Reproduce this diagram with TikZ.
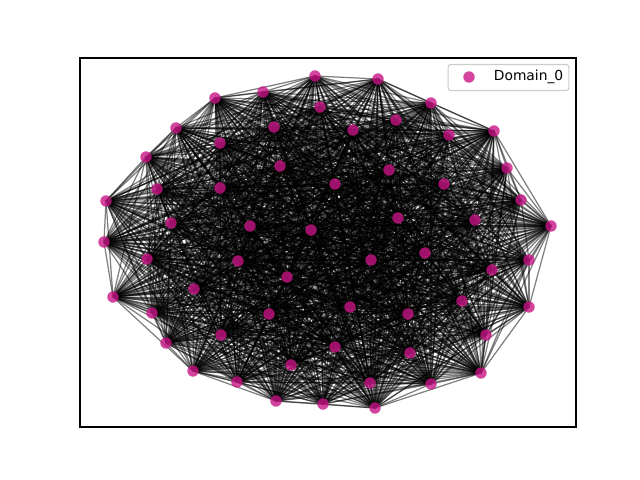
\documentclass[tikz,border=0pt]{standalone}
\usepackage{fontspec}
\setmainfont{DejaVu Sans}
\usepackage{xcolor}
\usetikzlibrary{backgrounds}
\definecolor{dommagenta}{HTML}{C71585}
\definecolor{legframe}{HTML}{CCCCCC}
\tikzset{
  dom/.style={circle, fill=dommagenta, fill opacity=0.8, draw=none,
    inner sep=0pt, minimum size=2.9mm},
  edge/.style={draw=black, line width=0.9pt, opacity=0.5},
  axbox/.style={draw=black, line width=0.8pt},
  legbox/.style={rounded corners=2pt, draw=legframe, line width=0.8pt,
    fill=white, fill opacity=0.8, text opacity=1, minimum width=30.7mm,
    minimum height=6.6mm},
}

\begin{document}
\begin{tikzpicture}[x=0.0254cm, y=-0.0254cm]
\useasboundingbox (0,0) rectangle (640,480);
% ---------- axes frame ----------
\draw[axbox] (80,58) rectangle (576,427);

% ---------- nodes of the graph ----------
\foreach \i/\x/\y in {1/315/76, 2/378/79, 3/263/92, 4/215/98, 5/431/103,
  6/320/107, 7/396/120, 8/274/127, 9/353/130, 10/176/128, 11/449/135,
  12/494/131, 13/220/143, 14/146/157, 15/280/166, 16/389/170, 17/507/168,
  18/335/184, 19/444/184, 20/157/189, 21/220/188, 22/106/201, 23/521/200,
  24/398/218, 25/475/220, 26/171/223, 27/250/226, 28/311/230, 29/551/226,
  30/104/242, 31/425/253, 32/147/259, 33/238/261, 34/371/260, 35/529/260,
  36/287/277, 37/492/270, 38/113/297, 39/194/289, 40/529/307, 41/350/307,
  42/462/301, 43/152/313, 44/269/314, 45/408/314, 46/221/335, 47/486/335,
  48/166/343, 49/335/347, 50/410/353, 51/291/365, 52/193/371, 53/481/373,
  54/370/383, 55/237/382, 56/431/384, 57/276/401, 58/323/404, 59/375/408}{
  \node[dom] (n\i) at (\x,\y) {};
}

% ---------- edges (dense random graph) ----------
\pgfmathsetseed{4217}
\begin{scope}[on background layer]
\foreach \i in {1,...,58}{
  \pgfmathtruncatemacro\jstart{\i+1}
  \foreach \j in {\jstart,...,59}{
    \pgfmathrandominteger{\r}{1}{100}
    \ifnum\r<91
      \draw[edge] (n\i.center) -- (n\j.center);
    \fi
  }
}
\end{scope}

% ---------- legend ----------
\node[legbox] (legend) at (508.5,77.5) {};
\node[dom] (legdot) at (469,77) {};
\node[anchor=west, font=\fontsize{10}{12}\selectfont] (legtext) at (489,77) {Domain\_0};
\end{tikzpicture}
\end{document}
